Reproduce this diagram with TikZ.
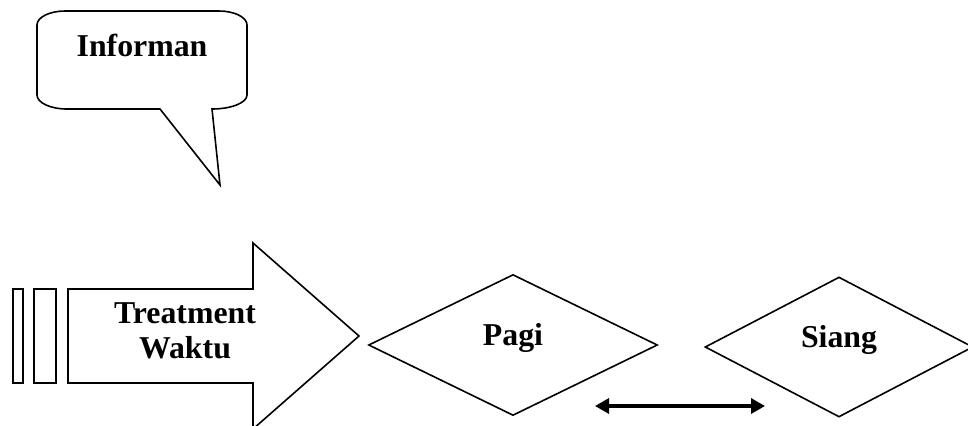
\documentclass[tikz,border=0pt]{standalone}
\usepackage{fontspec}
\setmainfont{Liberation Serif}
\usetikzlibrary{shapes.geometric}
\usetikzlibrary{arrows.meta}

\begin{document}
\begin{tikzpicture}[x=0.5pt, y=0.5pt, line width=0.8pt,
  lbl/.style={font=\fontsize{15.9}{17.5}\selectfont\bfseries, inner sep=0pt},
  waktu/.style={diamond, draw, lbl, text height=0.5em, text depth=0.5em},
  wtip/.tip={Triangle[length=7pt, width=7.5pt]}]
 \useasboundingbox (0,0) rectangle (968,425);

 %callout
 \draw (65,414) -- (219,414) arc[start angle=90, end angle=0, x radius=28, y radius=14]
   -- (247,330) arc[start angle=0, end angle=-90, x radius=35, y radius=14]
   -- (220,240) -- (160,316) -- (67,316)
   arc[start angle=270, end angle=180, x radius=30, y radius=14]
   -- (37,400) arc[start angle=180, end angle=90, x radius=28, y radius=14] -- cycle;
 \node[lbl, anchor=base] (informan) at (142,369) {Informan};

 %arrow
 \foreach \xa/\xb in {13/23, 34/56} {
   \draw (\xa,42) rectangle (\xb,136);
 }
 \draw (68,42) -- (68,136) -- (253,136) -- (253,182) -- (359,89)
   -- (253,-4) -- (253,42) -- cycle;
 \node[lbl, align=center] (treatment) at (185,94) {Treatment\\Waktu};

 %diamonds
 \node[waktu, minimum width=144.5pt, minimum height=70.5pt] (pagi) at (513,80) {Pagi};
 \node[waktu, minimum width=134pt, minimum height=70pt] (siang) at (839,78) {Siang};

 %double arrow
 \coordinate (l) at (595,19);
 \coordinate (r) at (765,19);
 \draw[wtip-wtip, line width=1.6pt] (l) -- (r);

\end{tikzpicture}
\end{document}
